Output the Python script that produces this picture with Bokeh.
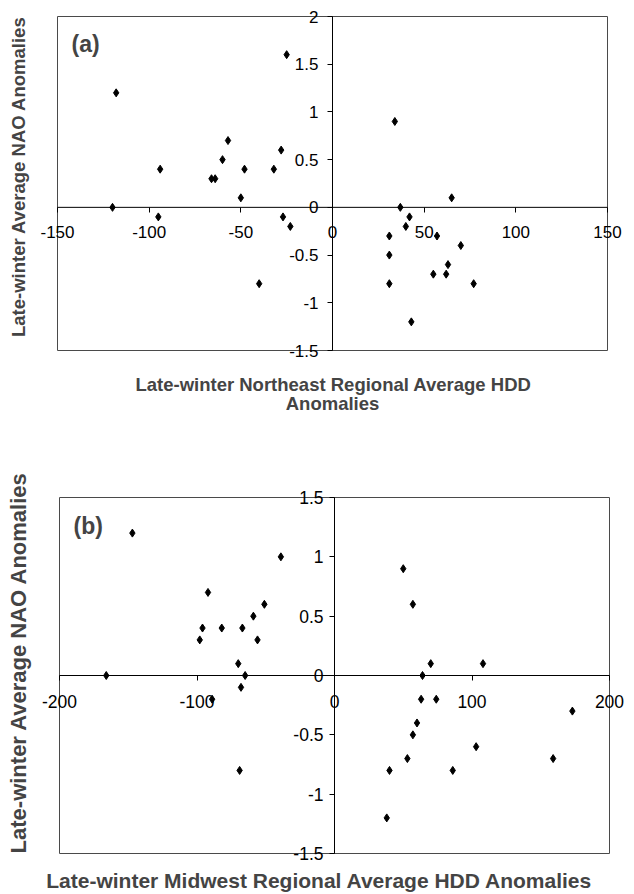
import math
from bokeh.plotting import figure
from bokeh.models import Range1d, FixedTicker, CustomJSTickFormatter, Label
from bokeh.layouts import column
from bokeh.embed import file_html
from bokeh.resources import INLINE

# Panel (a): Northeast
ne_hdd = [-118, -120, -94, -95, -66, -64, -60, -57, -48, -50, -40, -32, -28, -25, -27, -23,
          34, 65, 37, 42, 40, 31, 57, 70, 31, 63, 55, 62, 31, 77, 43]
ne_nao = [1.2, 0, 0.4, -0.1, 0.3, 0.3, 0.5, 0.7, 0.4, 0.1, -0.8, 0.4, 0.6, 1.6, -0.1, -0.2,
          0.9, 0.1, 0, -0.1, -0.2, -0.3, -0.3, -0.4, -0.5, -0.6, -0.7, -0.7, -0.8, -0.8, -1.2]
ne_xticks = [-150, -100, -50, 0, 50, 100, 150]
ne_yticks = [-1.5, -1, -0.5, 0, 0.5, 1, 1.5, 2]

# Panel (b): Midwest
mw_hdd = [-147, -166, -92, -96, -98, -82, -67, -59, -51, -56, -39, -70, -65, -68, -89, -69,
          50, 57, 70, 108, 64, 63, 74, 60, 57, 53, 40, 86, 103, 38, 173, 159]
mw_nao = [1.2, 0, 0.7, 0.4, 0.3, 0.4, 0.4, 0.5, 0.6, 0.3, 1.0, 0.1, 0, -0.1, -0.2, -0.8,
          0.9, 0.6, 0.1, 0.1, 0, -0.2, -0.2, -0.4, -0.5, -0.7, -0.8, -0.8, -0.6, -1.2, -0.3, -0.7]
mw_xticks = [-200, -100, 0, 100, 200]
mw_yticks = [-1.5, -1, -0.5, 0, 0.5, 1, 1.5]

FONT = "Liberation Sans"
W = 634


def make_panel(xs, ys, xticks, yticks, H, box, tick_size, title_size, xtitle_size, y_standoff,
               ytitle, ytitle_pos, xtitles, tag, tag_pos):
    L, R, T, B = box  # pixel edges of the drawn box within the canvas
    x0, x1 = xticks[0], xticks[-1]
    y0, y1 = yticks[0], yticks[-1]
    sx = (R - L) / (x1 - x0)
    sy = (B - T) / (y1 - y0)

    def dx(px):
        return x0 + (px - L) / sx

    def dy(py):
        return y1 - (py - T) / sy

    p = figure(width=W, height=H, output_backend="svg", toolbar_location=None,
               x_range=Range1d(dx(0), dx(W)), y_range=Range1d(dy(H), dy(0)),
               min_border=0, background_fill_color="white", border_fill_color="white")
    p.min_border_left = p.min_border_right = p.min_border_top = p.min_border_bottom = 0
    p.grid.visible = False
    p.outline_line_color = None

    # box around the data area and the zero lines
    p.quad(left=[x0], right=[x1], bottom=[y0], top=[y1], fill_color=None,
           line_color="#4a4a4a", line_width=1)
    p.segment(x0=[x0], y0=[0], x1=[x1], y1=[0], line_color="black", line_width=1)
    p.segment(x0=[0], y0=[y0], x1=[0], y1=[y1], line_color="black", line_width=1)

    fmt = CustomJSTickFormatter(code="return String(tick);")
    for ax, ticks, so in ((p.xaxis, xticks, 14), (p.yaxis, yticks, y_standoff)):
        ax.fixed_location = 0
        ax.ticker = FixedTicker(ticks=ticks)
        ax.formatter = fmt
        ax.major_tick_in = 0
        ax.major_tick_out = 5
        ax.minor_tick_line_color = None
        ax.axis_line_color = None
        ax.major_tick_line_color = "black"
        ax.major_label_text_font = FONT
        ax.major_label_text_font_size = tick_size
        ax.major_label_text_color = "black"
        ax.major_label_standoff = so

    p.scatter(xs, ys, marker="diamond", size=8, color="black")

    p.add_layout(Label(x=dx(ytitle_pos[0]), y=dy(ytitle_pos[1]), text=ytitle, angle=math.pi / 2,
                       text_font=FONT, text_font_size=title_size, text_font_style="bold",
                       text_align="center", text_baseline="middle"))
    for t, (px, py) in xtitles:
        p.add_layout(Label(x=dx(px), y=dy(py), text=t, text_font=FONT,
                           text_font_size=xtitle_size, text_font_style="bold",
                           text_align="center", text_baseline="middle"))
    p.add_layout(Label(x=dx(tag_pos[0]), y=dy(tag_pos[1]), text=tag, text_font=FONT,
                       text_font_size="23px", text_font_style="bold",
                       text_baseline="middle", text_align="left"))
    return p


p1 = make_panel(ne_hdd, ne_nao, ne_xticks, ne_yticks, 448, (57, 607, 16, 350), "17px", "18.5px",
                "18.5px", 9,
                "Late-winter Average NAO Anomalies", (18, 176),
                [("Late-winter Northeast Regional Average HDD", (333, 384)), ("Anomalies", (332, 403))],
                "(a)", (71, 43))
p2 = make_panel(mw_hdd, mw_nao, mw_xticks, mw_yticks, 446, (59, 609, 49, 405), "17.5px", "22px",
                "21px", 6,
                "Late-winter Average NAO Anomalies", (18, 214),
                [("Late-winter Midwest Regional Average HDD Anomalies", (319, 432))],
                "(b)", (73, 77))

layout = column(p1, p2)
open("out.html", "w").write(file_html(layout, INLINE))
